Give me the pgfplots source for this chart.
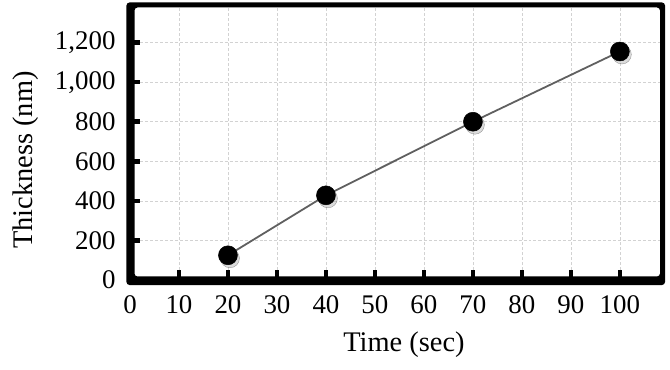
\documentclass[border=0pt]{standalone}
\usepackage{fontspec}
\setmainfont{Liberation Serif}
\usepackage{pgfplots}
\pgfplotsset{compat=1.18}
\begin{document}
\begin{tikzpicture}
\path[use as bounding box] (-130bp,-90bp) rectangle (540bp,280bp);
\begin{axis}[
  at={(0,0)}, anchor=south west,
  scale only axis,
  width=532bp, height=275bp,
  xmin=0, xmax=108.6,
  ymin=0, ymax=1390,
  xtick={0,10,...,100},
  ytick={0,200,...,1200},
  axis line style={line width=4bp, line join=round},
  every tick/.style={line width=4.5bp, black},
  major tick length=10bp,
  tick align=inside,
  xtick pos=bottom, ytick pos=left,
  grid=major,
  major grid style={densely dashed, gray!35, line width=0.6bp},
  /pgf/number format/assume math mode=true,
  /pgf/number format/1000 sep={,},
  ticklabel style={font=\fontsize{27}{29}\selectfont},
  xticklabel style={yshift=-12bp},
  yticklabel style={xshift=-11bp},
  xlabel={Time (sec)},
  ylabel={Thickness (nm)},
  label style={font=\fontsize{28.5}{30}\selectfont},
  xlabel style={at={(axis description cs:0.515,-0.236)}, anchor=center},
  ylabel style={at={(axis description cs:-0.197,0.436)}, anchor=center, rotate=0},
  clip=false,
]
\addplot[draw=none, mark=*, mark size=9.5bp, mark options={fill=black!40, draw=none, opacity=0.35, xshift=2bp, yshift=-3bp}]
  coordinates {(20,125) (40,428) (70,800) (100,1155)};
\addplot[gray!75!black, line width=1.8bp, mark=*, mark size=9.5bp, mark options={fill=black, draw=black, line width=0.5bp}]
  coordinates {(20,125) (40,428) (70,800) (100,1155)};
\end{axis}
\fill[black, even odd rule, rounded corners=3bp] (-3.5bp,-5bp) rectangle (535bp,277.5bp) (4.5bp,3.5bp) rectangle (530bp,272.5bp);
\end{tikzpicture}
\end{document}
